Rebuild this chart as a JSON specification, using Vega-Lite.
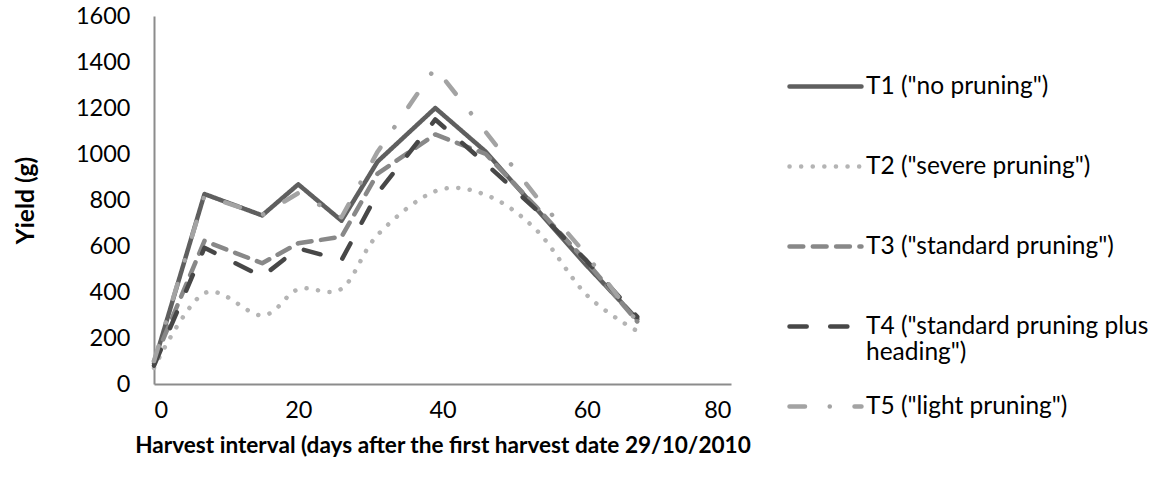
{
  "$schema": "https://vega.github.io/schema/vega-lite/v6.json",
  "width": 577,
  "height": 368,
  "autosize": {"type": "none"},
  "padding": {"left": 154, "top": 16, "right": 430, "bottom": 95},
  "background": "white",
  "config": {
    "view": {"stroke": null},
    "font": "Lato",
    "axis": {
      "grid": false,
      "ticks": false,
      "domainColor": "#8c8c8c",
      "domainWidth": 2,
      "labelFont": "Lato",
      "labelFontSize": 23.5,
      "labelColor": "#000000",
      "titleFont": "Lato",
      "titleFontSize": 22.6,
      "titleFontWeight": "bold",
      "titleColor": "#000000"
    },
    "axisX": {"labelPadding": 14, "titlePadding": 13},
    "axisY": {"labelPadding": 24, "titlePadding": 37, "format": "d", "titleFontSize": 24.5}
  },
  "data": {
    "values": [
      {"series": "T1 (\"no pruning\")", "day": 0, "yield": 90},
      {"series": "T1 (\"no pruning\")", "day": 7, "yield": 826},
      {"series": "T1 (\"no pruning\")", "day": 15, "yield": 733},
      {"series": "T1 (\"no pruning\")", "day": 20, "yield": 868},
      {"series": "T1 (\"no pruning\")", "day": 26, "yield": 710},
      {"series": "T1 (\"no pruning\")", "day": 31, "yield": 967},
      {"series": "T1 (\"no pruning\")", "day": 39, "yield": 1200},
      {"series": "T1 (\"no pruning\")", "day": 46, "yield": 1010},
      {"series": "T1 (\"no pruning\")", "day": 53, "yield": 762},
      {"series": "T1 (\"no pruning\")", "day": 60, "yield": 515},
      {"series": "T1 (\"no pruning\")", "day": 67, "yield": 282},
      {"series": "T2 (\"severe pruning\")", "day": 0, "yield": 70},
      {"series": "T2 (\"severe pruning\")", "day": 7, "yield": 395},
      {"series": "T2 (\"severe pruning\")", "day": 15, "yield": 298},
      {"series": "T2 (\"severe pruning\")", "day": 20, "yield": 412},
      {"series": "T2 (\"severe pruning\")", "day": 26, "yield": 414},
      {"series": "T2 (\"severe pruning\")", "day": 31, "yield": 648},
      {"series": "T2 (\"severe pruning\")", "day": 39, "yield": 838},
      {"series": "T2 (\"severe pruning\")", "day": 46, "yield": 822},
      {"series": "T2 (\"severe pruning\")", "day": 53, "yield": 670},
      {"series": "T2 (\"severe pruning\")", "day": 60, "yield": 387},
      {"series": "T2 (\"severe pruning\")", "day": 67, "yield": 230},
      {"series": "T3 (\"standard pruning\")", "day": 0, "yield": 100},
      {"series": "T3 (\"standard pruning\")", "day": 7, "yield": 622},
      {"series": "T3 (\"standard pruning\")", "day": 15, "yield": 525},
      {"series": "T3 (\"standard pruning\")", "day": 20, "yield": 612},
      {"series": "T3 (\"standard pruning\")", "day": 26, "yield": 640},
      {"series": "T3 (\"standard pruning\")", "day": 31, "yield": 915},
      {"series": "T3 (\"standard pruning\")", "day": 39, "yield": 1085},
      {"series": "T3 (\"standard pruning\")", "day": 46, "yield": 1000},
      {"series": "T3 (\"standard pruning\")", "day": 53, "yield": 770},
      {"series": "T3 (\"standard pruning\")", "day": 60, "yield": 530},
      {"series": "T3 (\"standard pruning\")", "day": 67, "yield": 272},
      {"series": "T4 (\"standard pruning plus heading\")", "day": 0, "yield": 80},
      {"series": "T4 (\"standard pruning plus heading\")", "day": 7, "yield": 592},
      {"series": "T4 (\"standard pruning plus heading\")", "day": 15, "yield": 467},
      {"series": "T4 (\"standard pruning plus heading\")", "day": 20, "yield": 590},
      {"series": "T4 (\"standard pruning plus heading\")", "day": 26, "yield": 539},
      {"series": "T4 (\"standard pruning plus heading\")", "day": 31, "yield": 830},
      {"series": "T4 (\"standard pruning plus heading\")", "day": 39, "yield": 1150},
      {"series": "T4 (\"standard pruning plus heading\")", "day": 46, "yield": 958},
      {"series": "T4 (\"standard pruning plus heading\")", "day": 53, "yield": 758},
      {"series": "T4 (\"standard pruning plus heading\")", "day": 60, "yield": 535},
      {"series": "T4 (\"standard pruning plus heading\")", "day": 67, "yield": 292},
      {"series": "T5 (\"light pruning\")", "day": 0, "yield": 100},
      {"series": "T5 (\"light pruning\")", "day": 7, "yield": 820},
      {"series": "T5 (\"light pruning\")", "day": 15, "yield": 735},
      {"series": "T5 (\"light pruning\")", "day": 20, "yield": 830},
      {"series": "T5 (\"light pruning\")", "day": 26, "yield": 725},
      {"series": "T5 (\"light pruning\")", "day": 31, "yield": 1010},
      {"series": "T5 (\"light pruning\")", "day": 39, "yield": 1375},
      {"series": "T5 (\"light pruning\")", "day": 46, "yield": 1095},
      {"series": "T5 (\"light pruning\")", "day": 53, "yield": 815},
      {"series": "T5 (\"light pruning\")", "day": 60, "yield": 560},
      {"series": "T5 (\"light pruning\")", "day": 67, "yield": 270}
    ]
  },
  "encoding": {
    "x": {
      "field": "day",
      "type": "quantitative",
      "scale": {"domain": [0, 80], "nice": false},
      "axis": {"values": [0, 20, 40, 60, 80], "title": "Harvest interval (days after the  first harvest date 29/10/2010"}
    },
    "y": {
      "field": "yield",
      "type": "quantitative",
      "scale": {"domain": [0, 1600], "nice": false},
      "axis": {"values": [0, 200, 400, 600, 800, 1000, 1200, 1400, 1600], "title": "Yield (g)"}
    },
    "color": {
      "field": "series",
      "type": "nominal",
      "scale": {
        "domain": ["T1 (\"no pruning\")", "T2 (\"severe pruning\")", "T3 (\"standard pruning\")", "T4 (\"standard pruning plus heading\")", "T5 (\"light pruning\")"],
        "range": ["#5f5f5f", "#b4b4b4", "#888888", "#474747", "#a3a3a3"]
      },
      "legend": {
        "title": null,
        "orient": "none",
        "legendX": 633,
        "legendY": 32,
        "padding": 0,
        "gridAlign": "all",
        "symbolType": "stroke",
        "symbolSize": 5184,
        "symbolStrokeWidth": 4.5,
        "labelFont": "Lato",
        "labelFontSize": 24.5,
        "labelColor": "#000000",
        "labelLimit": 400,
        "labelOffset": 2,
        "rowPadding": 3,
        "labelExpr": "indexof(datum.label, 'T4') == 0 ? ['T4 (\"standard pruning plus', 'heading\")'] : datum.label",
        "encoding": {"symbols": {"strokeCap": {"value": "round"}}}
      }
    },
    "strokeDash": {
      "field": "series",
      "type": "nominal",
      "scale": {
        "domain": ["T1 (\"no pruning\")", "T2 (\"severe pruning\")", "T3 (\"standard pruning\")", "T4 (\"standard pruning plus heading\")", "T5 (\"light pruning\")"],
        "range": [[1, 0], [0.1, 11.5], [13.8, 9.5], [17.2, 23.5], [15.5, 24.7, 0.1, 24.7]]
      },
      "legend": {
        "title": null,
        "orient": "none",
        "legendX": 633,
        "legendY": 32,
        "padding": 0,
        "gridAlign": "all",
        "symbolType": "stroke",
        "symbolSize": 5184,
        "symbolStrokeWidth": 4.5,
        "labelFont": "Lato",
        "labelFontSize": 24.5,
        "labelColor": "#000000",
        "labelLimit": 400,
        "labelOffset": 2,
        "rowPadding": 3,
        "labelExpr": "indexof(datum.label, 'T4') == 0 ? ['T4 (\"standard pruning plus', 'heading\")'] : datum.label",
        "encoding": {"symbols": {"strokeCap": {"value": "round"}}}
      }
    }
  },
  "layer": [
    {
      "transform": [{"filter": "indexof(datum.series, 'T2') == 0"}],
      "mark": {"type": "line", "interpolate": "cardinal", "strokeWidth": 4.5, "strokeCap": "round", "strokeJoin": "round"}
    },
    {
      "transform": [{"filter": "indexof(datum.series, 'T2') != 0"}],
      "mark": {"type": "line", "interpolate": "linear", "strokeWidth": 4.5, "strokeCap": "round", "strokeJoin": "round"}
    }
  ]
}
